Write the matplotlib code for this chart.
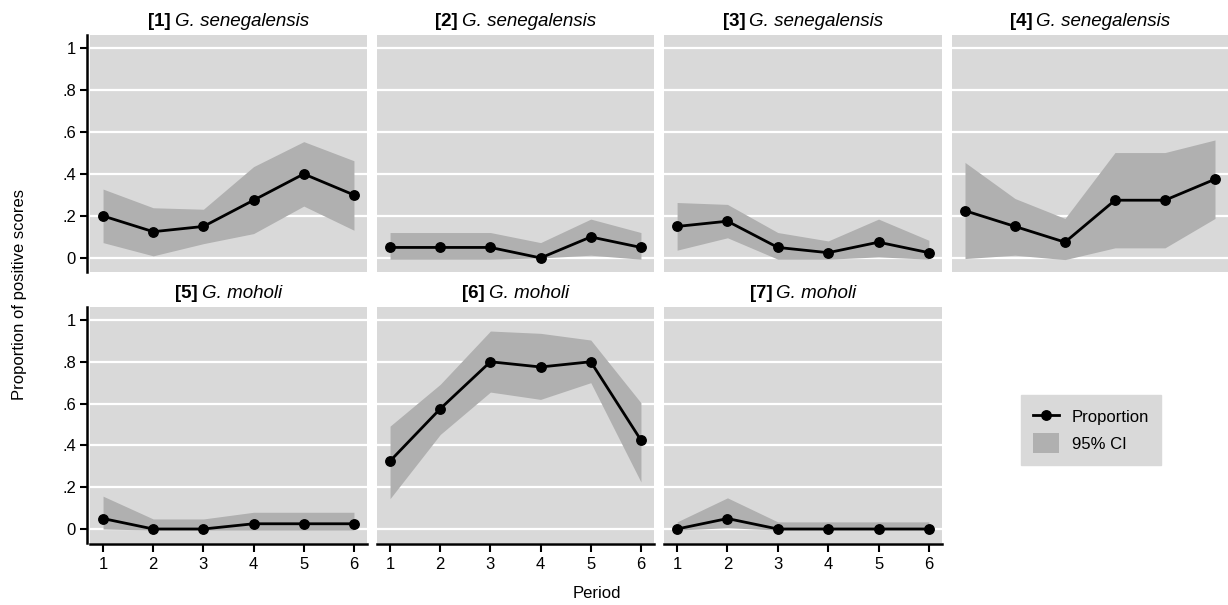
import numpy as np
import matplotlib
matplotlib.use("Agg")
import matplotlib.pyplot as plt
from matplotlib.lines import Line2D
from matplotlib.patches import Patch
from matplotlib.transforms import offset_copy

plt.rcParams['font.family'] = ['Liberation Sans', 'DejaVu Sans']

periods = [1, 2, 3, 4, 5, 6]
panel_ids = ["[1]", "[2]", "[3]", "[4]", "[5]", "[6]", "[7]"]
species = ["G. senegalensis"] * 4 + ["G. moholi"] * 3

prop = [
    [0.200, 0.125, 0.150, 0.275, 0.400, 0.300],
    [0.050, 0.050, 0.050, 0.000, 0.100, 0.050],
    [0.150, 0.175, 0.050, 0.025, 0.075, 0.025],
    [0.225, 0.150, 0.075, 0.275, 0.275, 0.375],
    [0.050, 0.000, 0.000, 0.025, 0.025, 0.025],
    [0.325, 0.575, 0.800, 0.775, 0.800, 0.425],
    [0.000, 0.050, 0.000, 0.000, 0.000, 0.000],
]
ci_low = [
    [0.073, 0.010, 0.068, 0.116, 0.247, 0.132],
    [-0.006, -0.006, -0.006, 0.000, 0.013, -0.006],
    [0.037, 0.096, -0.006, -0.006, 0.005, -0.006],
    [-0.003, 0.013, -0.008, 0.048, 0.048, 0.188],
    [0.000, -0.005, -0.005, -0.005, -0.005, -0.005],
    [0.145, 0.452, 0.655, 0.620, 0.700, 0.225],
    [-0.005, 0.006, -0.005, -0.005, -0.005, -0.005],
]
ci_high = [
    [0.328, 0.239, 0.232, 0.435, 0.554, 0.463],
    [0.121, 0.121, 0.121, 0.073, 0.185, 0.121],
    [0.264, 0.255, 0.121, 0.081, 0.185, 0.084],
    [0.455, 0.283, 0.188, 0.502, 0.502, 0.562],
    [0.157, 0.048, 0.048, 0.080, 0.080, 0.080],
    [0.492, 0.692, 0.947, 0.936, 0.904, 0.604],
    [0.034, 0.149, 0.034, 0.034, 0.034, 0.034],
]

yticks = [0, 0.2, 0.4, 0.6, 0.8, 1.0]
ytick_labels = ["0", ".2", ".4", ".6", ".8", "1"]

W, H = 1228, 605
fig = plt.figure(figsize=(W / 100, H / 100), dpi=100)
renderer = fig.canvas.get_renderer()

lefts = [90, 377, 664, 952]
widths = [277, 277, 278, 276]
rows = [(35, 272), (307, 543)]

bg = '#d9d9d9'
ci_col = '#b0b0b0'
tfs = 13.5

for i in range(7):
    r, c = divmod(i, 4)
    top, bot = rows[r]
    ax = fig.add_axes([lefts[c] / W, 1 - bot / H, widths[c] / W, (bot - top) / H])
    ax.set_facecolor(bg)
    ax.set_xlim(0.74, 6.26)
    ax.set_ylim(-0.067, 1.062)
    for yv in yticks:
        ax.axhline(yv, color='white', lw=1.6, zorder=1)
    ax.fill_between(periods, ci_low[i], ci_high[i], color=ci_col, lw=0, zorder=2)
    ax.plot(periods, prop[i], color='black', lw=2, marker='o', ms=6.8, zorder=3)
    for s in ['top', 'right']:
        ax.spines[s].set_visible(False)
    if c == 0:
        ax.spines['left'].set_position(('outward', 2))
        ax.spines['left'].set_linewidth(1.8)
        ax.set_yticks(yticks)
        ax.set_yticklabels(ytick_labels)
        ax.tick_params(axis='y', direction='out', length=5, width=1.5, labelsize=12, pad=3)
    else:
        ax.spines['left'].set_visible(False)
        ax.set_yticks([])
    if r == 1:
        ax.spines['bottom'].set_position(('outward', 1))
        ax.spines['bottom'].set_linewidth(1.8)
        ax.set_xticks(periods)
        ax.tick_params(axis='x', direction='out', length=6, width=1.5, labelsize=12, pad=3)
    else:
        ax.spines['bottom'].set_visible(False)
        ax.set_xticks([])

    # title: bold number + italic species, centred together
    tb = ax.text(0.5, 1, panel_ids[i], transform=ax.transAxes, fontsize=tfs,
                 fontweight='bold', ha='left', va='bottom')
    ti = ax.text(0.5, 1, species[i], transform=ax.transAxes, fontsize=tfs,
                 style='italic', ha='left', va='bottom')
    wb = tb.get_window_extent(renderer).width
    wi = ti.get_window_extent(renderer).width
    gap = 4
    start = -(wb + gap + wi) / 2
    tb.set_transform(offset_copy(ax.transAxes, fig, x=start, y=5, units='dots'))
    ti.set_transform(offset_copy(ax.transAxes, fig, x=start + wb + gap, y=5, units='dots'))

fig.text(20 / W, 1 - 295 / H, "Proportion of positive scores", rotation=90,
         ha='center', va='center', fontsize=12)
fig.text(597 / W, 1 - 594 / H, "Period", ha='center', va='center', fontsize=12)

handles = [Line2D([], [], color='black', lw=2, marker='o', ms=6.8),
           Patch(facecolor=ci_col, edgecolor='none')]
leg = fig.legend(handles, ["Proportion", "95% CI"], loc='center',
                 bbox_to_anchor=(1091 / W, 1 - 430 / H), frameon=True,
                 fontsize=12, handlelength=1.55, handleheight=1.5,
                 borderpad=0.7, labelspacing=0.36, handletextpad=0.8)
leg.get_frame().set_facecolor(bg)
leg.get_frame().set_edgecolor(bg)
leg.get_frame().set_alpha(1)
leg.get_frame().set_boxstyle('square', pad=0)

fig.savefig("out.png", dpi=100)
